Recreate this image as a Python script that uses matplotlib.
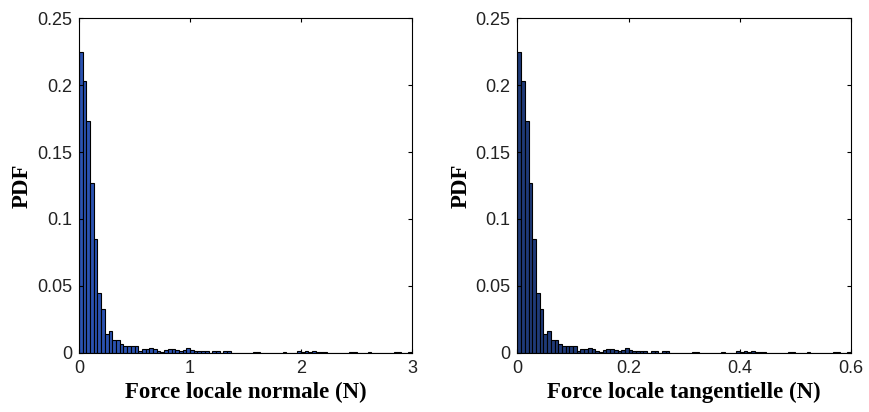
import matplotlib
matplotlib.use("Agg")
import matplotlib.pyplot as plt
import numpy as np

# histogram bin heights (90 bins)
pdf_normal = [
    0.2245, 0.2030, 0.1733, 0.1272, 0.0853, 0.0449, 0.0329, 0.0140, 0.0160, 0.0097,
    0.0097, 0.0062, 0.0050, 0.0050, 0.0050, 0.0050, 0.0015, 0.0025, 0.0025, 0.0037,
    0.0025, 0.0015, 0.0007, 0.0020, 0.0027, 0.0027, 0.0020, 0.0015, 0.0020, 0.0037,
    0.0020, 0.0015, 0.0015, 0.0015, 0.0015, 0.0000, 0.0015, 0.0015, 0.0000, 0.0015,
    0.0015, 0.0000, 0.0000, 0.0000, 0.0000, 0.0000, 0.0000, 0.0007, 0.0007, 0.0000,
    0.0000, 0.0000, 0.0000, 0.0000, 0.0000, 0.0005, 0.0000, 0.0000, 0.0000, 0.0015,
    0.0007, 0.0015, 0.0007, 0.0015, 0.0007, 0.0007, 0.0005, 0.0000, 0.0000, 0.0000,
    0.0000, 0.0000, 0.0000, 0.0007, 0.0007, 0.0000, 0.0000, 0.0000, 0.0007, 0.0000,
    0.0000, 0.0000, 0.0000, 0.0000, 0.0000, 0.0007, 0.0005, 0.0000, 0.0000, 0.0007,
]
pdf_tangential = list(pdf_normal)

range_normal = [0, 3]
range_tangential = [0, 0.6]
xticks_normal = [0, 1, 2, 3]
xticks_tangential = [0, 0.2, 0.4, 0.6]
yticks = [0, 0.05, 0.1, 0.15, 0.2, 0.25]

fig = plt.figure(figsize=(8.7, 4.12), dpi=100)
ax1 = fig.add_axes([0.0908, 0.144, 0.3828, 0.8117])
ax2 = fig.add_axes([0.5948, 0.144, 0.3834, 0.8117])

panels = [
    (ax1, pdf_normal, range_normal, xticks_normal, "Force locale normale (N)", "#2b52b0"),
    (ax2, pdf_tangential, range_tangential, xticks_tangential, "Force locale tangentielle (N)", "#1f3a78"),
]

for ax, pdf, rng, xt, lab, col in panels:
    edges = np.linspace(rng[0], rng[1], len(pdf) + 1)
    w = edges[1] - edges[0]
    ax.bar(edges[:-1], pdf, width=w, align="edge", color=col,
           edgecolor="black", linewidth=0.8)
    ax.set_xlim(rng)
    ax.set_ylim(0, 0.25)
    ax.set_xticks(xt)
    ax.set_xticklabels([("%g" % t) for t in xt])
    ax.set_yticks(yticks)
    ax.set_yticklabels([("%g" % t) for t in yticks])
    ax.tick_params(direction="in", top=True, right=True, length=3, width=0.8,
                   labelsize=13, pad=5, labelcolor="#222222")
    for t in ax.get_xticklabels() + ax.get_yticklabels():
        t.set_fontfamily("Liberation Sans")
    for s in ax.spines.values():
        s.set_linewidth(0.8)
    ax.set_xlabel(lab, fontsize=16.5, fontweight="bold", family="Liberation Serif", labelpad=4)
    ax.set_ylabel("PDF", fontsize=16.5, fontweight="bold", family="Liberation Serif", labelpad=3)

fig.savefig("out.png", dpi=100)
